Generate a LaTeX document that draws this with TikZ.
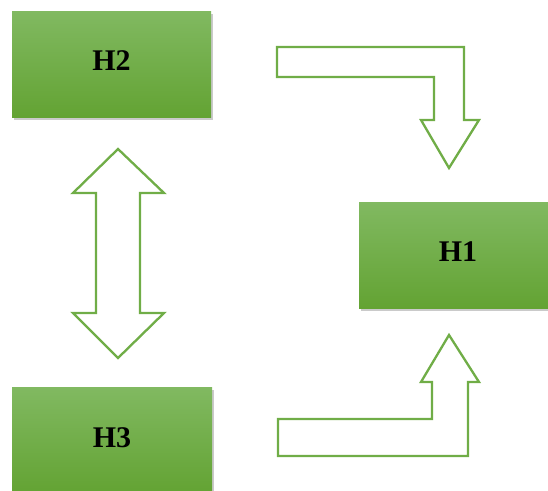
\documentclass[tikz,border=0pt]{standalone}
\usepackage{fontspec}
\setmainfont{Liberation Serif}
\usetikzlibrary{shadows}
\definecolor{boxtop}{RGB}{129,185,97}
\definecolor{boxbot}{RGB}{99,163,51}
\definecolor{arrowgreen}{RGB}{112,173,71}
\tikzset{
  hbox/.style={rectangle, inner sep=0pt, top color=boxtop, bottom color=boxbot,
    draw=none, drop shadow={shadow xshift=2pt, shadow yshift=-3pt, opacity=0.35, fill=black!60},
    font=\fontsize{30}{30}\selectfont\bfseries, text=black},
  blockarrow/.style={draw=arrowgreen, line width=2.3pt, fill=white, line join=miter}
}
\begin{document}
\begin{tikzpicture}[x=1pt,y=-1pt]
\useasboundingbox (0,0) rectangle (548,490);
\clip (0,0) rectangle (548,490);
% boxes
\node[hbox, minimum width=199pt, minimum height=106pt] (h2) at (111.5,64) {\raisebox{6pt}{H2}};
\node[hbox, minimum width=198pt, minimum height=106pt] (h1) at (458,255) {\raisebox{6pt}{H1}};
\node[hbox, minimum width=200pt, minimum height=106pt] (h3) at (112,440) {\raisebox{4pt}{H3}};
% bent arrow down (H2 -> H1)
\draw[blockarrow] (277,47) -- (464,47) -- (464,120) -- (479,120) -- (449,168)
  -- (421,120) -- (434,120) -- (434,77) -- (277,77) -- cycle;
% double arrow (H2 <-> H3)
\draw[blockarrow] (118,149) -- (164,193) -- (140,193) -- (140,313) -- (164,313)
  -- (118,358) -- (73,313) -- (96,313) -- (96,193) -- (73,193) -- cycle;
% bent arrow up (H3 -> H1)
\draw[blockarrow] (278,419) -- (432,419) -- (432,382) -- (421,382) -- (449,335)
  -- (479,382) -- (468,382) -- (468,456) -- (278,456) -- cycle;
\end{tikzpicture}
\end{document}
